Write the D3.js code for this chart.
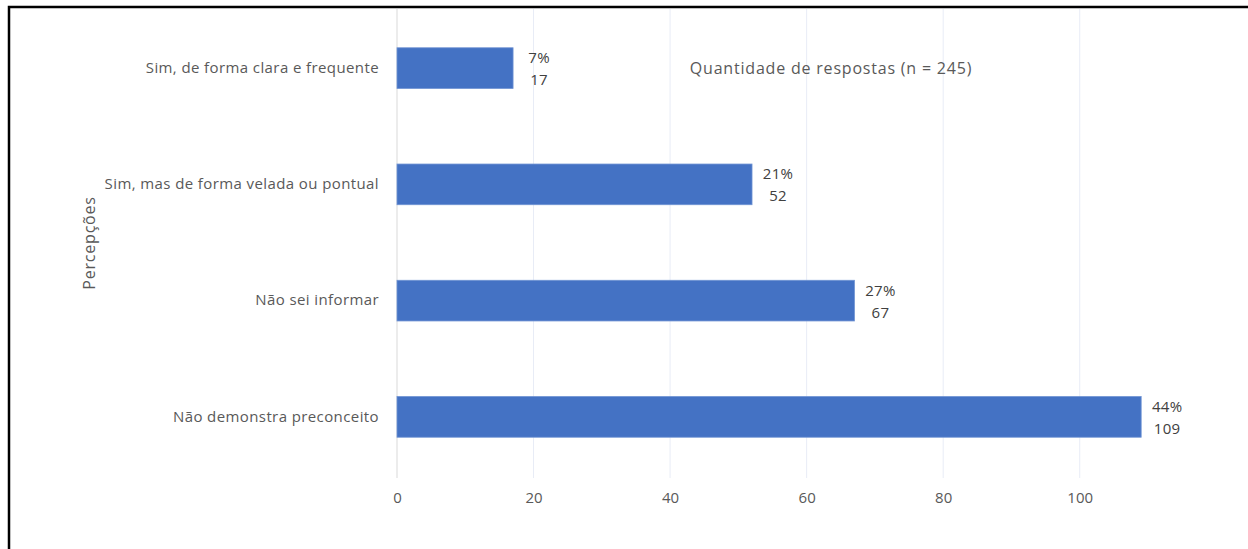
<!DOCTYPE html>
<html>
<head>
<meta charset="utf-8">
<script src="https://cdn.jsdelivr.net/npm/d3@7/dist/d3.min.js"></script>
<style>
  html, body { margin: 0; padding: 0; background: #fff; }
  svg { display: block; font-family: "Open Sans", "Noto Sans", sans-serif; }
</style>
</head>
<body>
<svg id="chart" width="1248" height="549"></svg>
<script>
// Perceptions, responses per category (n = 245)
const categories = [
  "Sim, de forma clara e frequente",
  "Sim, mas de forma velada ou pontual",
  "Não sei informar",
  "Não demonstra preconceito"
];
const counts = [17, 52, 67, 109];
const percentLabels = ["7%", "21%", "27%", "44%"];
const xTicks = [0, 20, 40, 60, 80, 100];
const axisTitle = "Percepções";
const note = "Quantidade de respostas (n = 245)";

const svg = d3.select("#chart");
const W = 1248, H = 549;
const plot = { left: 397, right: 1148, top: 10, bottom: 475 };

const x = d3.scaleLinear().domain([0, 110]).range([plot.left, plot.right]);
const y = d3.scaleBand().domain(categories).range([plot.top, plot.bottom]).paddingInner(0.65).paddingOuter(0.325);

// frame
svg.append("path")
  .attr("d", `M9,${H} L9,7 L${W},7`)
  .attr("fill", "none").attr("stroke", "#000").attr("stroke-width", 2.5);

// vertical gridlines
svg.append("g").selectAll("line").data(xTicks.slice(1)).join("line")
  .attr("x1", d => x(d)).attr("x2", d => x(d))
  .attr("y1", 9).attr("y2", 478)
  .attr("stroke", "#e8ecf6").attr("stroke-width", 1);

// value axis baseline
svg.append("line")
  .attr("x1", x(0)).attr("x2", x(0)).attr("y1", 9).attr("y2", 478)
  .attr("stroke", "#d9d9d9").attr("stroke-width", 1);

// x axis tick labels
const xAxis = d3.axisBottom(x).tickValues(xTicks).tickSize(0).tickPadding(0);
const gx = svg.append("g").attr("transform", `translate(0,${478})`).call(xAxis);
gx.select(".domain").remove();
gx.selectAll("text")
  .attr("y", 25).attr("dy", 0)
  .attr("font-size", 15).attr("fill", "#595959")
  .attr("font-family", "'Open Sans', 'Noto Sans', sans-serif");

// category labels
const yAxis = d3.axisLeft(y).tickSize(0).tickPadding(18);
const gy = svg.append("g").attr("transform", `translate(${x(0)},0)`).call(yAxis);
gy.select(".domain").remove();
gy.selectAll("text")
  .attr("font-size", 15).attr("fill", "#595959")
  .attr("letter-spacing", 0.4)
  .attr("font-family", "'Open Sans', 'Noto Sans', sans-serif");

// bars
svg.append("g").selectAll("rect").data(categories).join("rect")
  .attr("x", x(0))
  .attr("y", d => y(d))
  .attr("width", (d, i) => x(counts[i]) - x(0))
  .attr("height", y.bandwidth())
  .attr("fill", "#4472c4")
  .attr("stroke", "#6f93d3").attr("stroke-width", 0.8);

// data labels: percentage above count
const lbl = svg.append("g").selectAll("text").data(categories).join("text")
  .attr("x", (d, i) => x(counts[i]) + 26)
  .attr("y", d => y(d) + y.bandwidth() / 2)
  .attr("text-anchor", "middle")
  .attr("font-size", 15).attr("letter-spacing", 0.3).attr("fill", "#404040");
lbl.append("tspan").attr("x", (d, i) => x(counts[i]) + 26).attr("dy", -5)
  .text((d, i) => percentLabels[i]);
lbl.append("tspan").attr("x", (d, i) => x(counts[i]) + 26).attr("dy", 22)
  .text((d, i) => counts[i]);

// axis title
svg.append("text")
  .attr("transform", `translate(95,243) rotate(-90)`)
  .attr("text-anchor", "middle")
  .attr("font-size", 16).attr("letter-spacing", 0.8).attr("fill", "#595959")
  .text(axisTitle);

// note
svg.append("text")
  .attr("x", 831).attr("y", 74)
  .attr("text-anchor", "middle")
  .attr("font-size", 16).attr("letter-spacing", 0.8).attr("fill", "#595959")
  .text(note);
</script>
</body>
</html>
